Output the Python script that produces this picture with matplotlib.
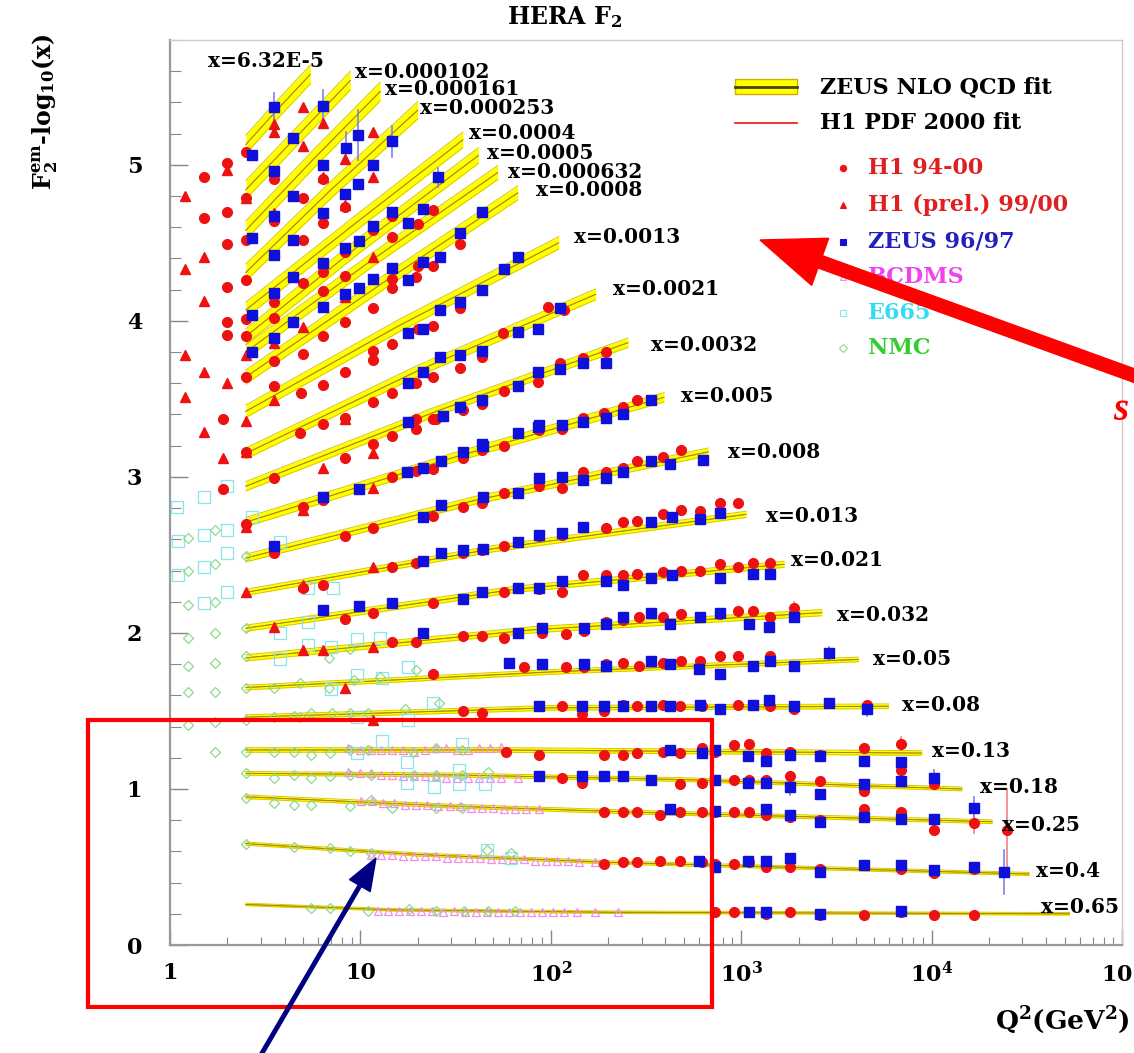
import matplotlib
matplotlib.use("Agg")
import matplotlib.pyplot as plt
from matplotlib.patches import Rectangle, FancyArrow
from matplotlib.ticker import MultipleLocator, LogLocator, NullFormatter

plt.rcParams['font.family'] = 'DejaVu Serif'
plt.rcParams['mathtext.fontset'] = 'dejavuserif'

# ---- x bins and fit curves (Q^2, F2 - log10 x) ----
x_bins = ['6.32E-5', '0.000102', '0.000161', '0.000253', '0.0004', '0.0005',
          '0.000632', '0.0008', '0.0013', '0.0021', '0.0032', '0.005', '0.008',
          '0.013', '0.021', '0.032', '0.05', '0.08', '0.13', '0.18', '0.25',
          '0.4', '0.65']

fit_q2 = [[2.5, 3.7, 5.46], [2.5, 4.7, 8.85], [2.5, 5.6, 12.7], [2.5, 7, 20],
          [2.5, 9.3, 34.5], [2.5, 10, 41.7], [2.5, 11.5, 52.6], [2.5, 13, 67],
          [2.5, 16, 110], [2.5, 20, 172], [2.5, 25, 254], [2.5, 30, 393],
          [2.5, 40, 670], [2.5, 50, 1060], [2.5, 65, 1680], [2.5, 80, 2650],
          [2.5, 100, 4130], [2.5, 100, 5940], [2.5, 50, 8870],
          [2.5, 30, 500, 14400], [2.5, 30, 300, 20800],
          [2.5, 20, 200, 32500], [2.5, 15, 200, 53000]]
fit_y = [[5.13, 5.36, 5.58], [4.84, 5.19, 5.54], [4.58, 5.03, 5.47], [4.31, 4.84, 5.35],
         [4.07, 4.62, 5.16], [3.90, 4.49, 5.06], [3.80, 4.39, 4.95], [3.64, 4.24, 4.82],
         [3.42, 3.97, 4.50], [3.15, 3.68, 4.17], [2.94, 3.42, 3.86], [2.71, 3.12, 3.51],
         [2.48, 2.85, 3.16], [2.26, 2.54, 2.76], [2.03, 2.28, 2.44], [1.84, 2.02, 2.13],
         [1.65, 1.75, 1.83], [1.46, 1.52, 1.53], [1.25, 1.25, 1.23],
         [1.10, 1.09, 1.06, 1.00], [0.95, 0.89, 0.85, 0.79],
         [0.65, 0.58, 0.53, 0.455], [0.26, 0.225, 0.21, 0.20]]
band_hw = [0.06, 0.06, 0.06, 0.055, 0.05, 0.05, 0.045, 0.045, 0.04, 0.035, 0.03,
           0.03, 0.025, 0.02, 0.02, 0.02, 0.015, 0.015, 0.015, 0.012, 0.012, 0.01, 0.008]

# label offsets from the end of each fit curve, in pixels (layout only)
label_dx = [-102, 5, 5, 2, 6, 9, 10, 18, 15, 17, 23, 17, 20, 20, 7, 15, 15, 13, 10, 18, 10, 7, -29]
label_dy = [13, 9, 2, 2, 7, 2, 1, 3, 6, 5, -2, 1, 0, -2, 4, -2, 0, 1, 2, 2, -3, 3, 7]

# ---- H1 94-00 ----
h1_lowx = [(2.5, 5.08), (2.0, 5.01), (1.5, 4.92), (3.5, 4.91), (6.4, 4.91), (2.5, 4.79), (5.0, 4.79), (8.3, 4.73),
           (1.5, 4.66), (2.0, 4.70), (3.5, 4.64), (6.4, 4.63), (11.7, 4.58), (14.7, 4.54), (20, 4.62), (24, 4.71), (14.7, 4.67),
           (2.5, 4.52), (2.0, 4.49), (5.0, 4.52), (6.4, 4.31), (8.3, 4.44), (14.7, 4.27), (20, 4.35), (24, 4.35), (33.5, 4.49),
           (2.5, 4.26), (2.0, 4.22), (3.5, 4.12), (5.0, 4.24), (6.4, 4.19), (8.3, 4.29), (11.7, 4.08), (14.7, 4.21),
           (20, 3.95), (24, 3.97), (33.5, 4.08), (43.6, 4.20),
           (2.5, 4.01), (2.0, 3.99), (2.0, 3.91), (2.5, 3.90), (3.5, 4.02), (3.5, 3.74), (5.0, 3.79), (6.4, 3.90),
           (8.3, 3.99), (11.7, 3.81), (14.7, 3.85),
           (2.5, 3.64), (3.5, 3.58), (6.4, 3.59), (8.3, 3.67), (24, 3.64), (33.5, 3.70), (43.6, 3.77), (11.7, 3.75), (19.5, 4.28),
           (14.7, 3.54), (11.7, 3.48), (19.5, 3.60), (56, 3.92), (97, 4.09), (117, 4.07), (43.6, 3.47), (34.5, 3.43),
           (25, 3.37), (19.5, 3.37), (8.3, 3.38),
           (86, 3.61), (112, 3.73), (147, 3.76), (195, 3.80), (147, 3.38), (190, 3.41), (240, 3.45), (285, 3.49),
           (57, 3.55), (4.9, 3.54), (1.9, 3.37)]
h1_midx = [(2.5, 3.16), (4.8, 3.28), (6.4, 3.34), (3.5, 2.99), (8.3, 3.12), (11.7, 3.21), (14.7, 3.26), (19.5, 3.31), (24, 3.37),
           (1.9, 2.92), (2.5, 2.70), (5.0, 2.81), (6.4, 2.85), (14.7, 3.00), (19.5, 3.04), (24, 3.05), (34.5, 3.12), (43.6, 3.17),
           (3.5, 2.51), (8.3, 2.62), (11.7, 2.67), (24, 2.75), (34.5, 2.81), (43.6, 2.83),
           (5.0, 2.29), (6.4, 2.31), (14.7, 2.42), (19.5, 2.45), (34.5, 2.51), (43.6, 2.53),
           (8.3, 2.09), (11.7, 2.13), (24, 2.19),
           (14.7, 1.94), (19.5, 1.94), (34.5, 1.98), (43.6, 1.98),
           (24, 1.74), (34.5, 1.50), (43.6, 1.49),
           (57, 3.20), (87, 3.30), (115, 3.31),
           (57, 2.90), (87, 2.94), (115, 2.93), (147, 3.03), (195, 3.03), (240, 3.06), (285, 3.10), (390, 3.13), (480, 3.17),
           (57, 2.56), (87, 2.62), (115, 2.63), (195, 2.67), (240, 2.71), (285, 2.72), (390, 2.76), (480, 2.79),
           (610, 2.78), (770, 2.83), (960, 2.83),
           (57, 2.26), (87, 2.28), (115, 2.26), (147, 2.37), (195, 2.37), (240, 2.37), (285, 2.38), (390, 2.39),
           (480, 2.40), (610, 2.40), (770, 2.44), (960, 2.42), (1150, 2.45), (1420, 2.45),
           (57, 1.97), (90, 2.00), (120, 1.99), (149, 2.01), (195, 2.07), (240, 2.08), (290, 2.10), (390, 2.10),
           (480, 2.12), (610, 2.10), (770, 2.12), (960, 2.14), (1150, 2.14), (1420, 2.10), (1900, 2.16),
           (72, 1.78), (120, 1.78), (149, 1.78), (195, 1.80), (240, 1.81), (290, 1.79), (390, 1.81), (480, 1.82),
           (610, 1.82), (770, 1.85), (960, 1.85), (1150, 1.79), (1420, 1.85), (1900, 1.79), (2900, 1.87),
           (114, 1.53), (145, 1.48), (190, 1.50), (240, 1.54), (285, 1.53), (390, 1.54), (475, 1.53), (620, 1.53),
           (770, 1.51), (960, 1.54), (1150, 1.54), (1420, 1.53), (1900, 1.51), (2900, 1.55), (4600, 1.54)]
h1_highx = [(58, 1.24), (87, 1.22), (190, 1.22), (240, 1.22), (285, 1.23), (390, 1.24), (475, 1.23), (620, 1.26),
            (730, 1.24), (920, 1.28), (1100, 1.29), (1350, 1.23), (1800, 1.24), (2600, 1.22), (4400, 1.26), (6900, 1.29),
            (114, 1.07), (145, 1.04), (475, 1.03), (620, 1.04), (730, 1.06), (920, 1.06), (1100, 1.06), (1350, 1.06),
            (1800, 1.08), (2600, 1.05), (4400, 0.99), (6900, 1.12), (10300, 1.03),
            (190, 0.85), (240, 0.85), (285, 0.85), (375, 0.83), (475, 0.85), (620, 0.85), (730, 0.85), (920, 0.85),
            (1100, 0.85), (1350, 0.83), (1800, 0.82), (2600, 0.80), (4400, 0.87), (6900, 0.85), (10300, 0.74),
            (16800, 0.78), (25000, 0.74),
            (190, 0.52), (240, 0.53), (285, 0.53), (375, 0.54), (475, 0.54), (620, 0.53), (730, 0.52), (920, 0.52),
            (1100, 0.53), (1350, 0.50), (1800, 0.50), (2600, 0.49), (4400, 0.51), (6900, 0.49), (10300, 0.46), (16800, 0.49),
            (730, 0.21), (920, 0.21), (1100, 0.21), (1350, 0.20), (1800, 0.21), (2600, 0.19), (4400, 0.19),
            (6900, 0.21), (10300, 0.19), (16800, 0.19)]

# ---- H1 (prel.) 99/00 ----
h1_prel = [(1.2, 4.80), (1.2, 4.33), (1.5, 4.41), (1.5, 4.13), (1.2, 3.78), (1.5, 3.67), (2.0, 3.60), (2.0, 4.97),
           (3.5, 5.26), (3.5, 5.21), (5.0, 5.37), (6.4, 5.27), (5.0, 5.12), (8.3, 5.04), (11.7, 5.21), (11.7, 4.92),
           (2.5, 4.79), (3.5, 4.69), (6.4, 4.92), (8.3, 4.74), (11.7, 4.41), (2.5, 3.78), (3.5, 3.86), (5.0, 3.96), (8.3, 4.15),
           (1.2, 3.51), (1.5, 3.29), (1.9, 3.12), (2.5, 3.16), (8.3, 3.37), (6.4, 3.06), (11.7, 3.15), (2.5, 3.36), (3.5, 3.49),
           (2.5, 2.68), (5.0, 2.79), (11.7, 2.93), (2.5, 2.26), (5.0, 2.31), (11.7, 2.42), (3.5, 2.04), (5.0, 1.89),
           (6.4, 1.89), (11.7, 1.91), (8.3, 1.65), (11.7, 1.44)]

# ---- ZEUS 96/97 ----
zeus_lowx = [(3.5, 5.37), (6.4, 5.38), (4.4, 5.17), (9.7, 5.19), (8.4, 5.11), (11.7, 5.00), (14.7, 5.15), (6.4, 5.00),
             (2.7, 5.06), (3.5, 4.96), (4.4, 4.80), (8.3, 4.81), (9.7, 4.88), (6.4, 4.69), (3.5, 4.67), (11.7, 4.61),
             (14.7, 4.70), (25.7, 4.92), (21.4, 4.72), (17.7, 4.63), (43.6, 4.70), (33.5, 4.56),
             (2.7, 4.53), (4.4, 4.52), (3.5, 4.42), (6.4, 4.37), (8.3, 4.47), (9.8, 4.51), (4.4, 4.28), (3.5, 4.18),
             (6.4, 4.09), (8.3, 4.17), (9.8, 4.21), (11.7, 4.27), (14.7, 4.34), (17.7, 4.26), (21.2, 4.38), (26.3, 4.41),
             (2.7, 4.04), (4.4, 3.99), (3.5, 3.89), (2.7, 3.80), (17.7, 3.92), (21.2, 3.95), (26.3, 4.07), (33.5, 4.12),
             (43.6, 4.20), (17.7, 3.60), (21.2, 3.67), (26.3, 3.77), (33.5, 3.78), (43.6, 3.81),
             (57, 4.33), (67, 4.41), (67, 3.93), (86, 3.95), (112, 4.08), (33.5, 3.45), (43.6, 3.49), (27, 3.39),
             (67, 3.58), (86, 3.67), (112, 3.69), (195, 3.73), (147, 3.73), (17.7, 3.35), (86, 3.32), (195, 3.38),
             (240, 3.40), (335, 3.49)]
zeus_midx = [(44, 3.20), (67, 3.28), (87, 3.33), (115, 3.33), (147, 3.35),
             (6.4, 2.87), (9.8, 2.92), (17.5, 3.03), (21.4, 3.06), (26.5, 3.10), (34.5, 3.16), (43.6, 3.21),
             (44, 2.87), (67, 2.90), (87, 2.99), (115, 3.00), (147, 2.98), (195, 2.99), (240, 3.03), (335, 3.10),
             (425, 3.08), (630, 3.11),
             (3.5, 2.56), (21.4, 2.74), (26.5, 2.82),
             (44, 2.54), (67, 2.58), (87, 2.63), (115, 2.64), (147, 2.68), (335, 2.71), (435, 2.74), (610, 2.73), (770, 2.77),
             (21.4, 2.46), (26.5, 2.51), (34.5, 2.53),
             (67, 2.29), (87, 2.29), (115, 2.33), (195, 2.33), (240, 2.31), (335, 2.35), (435, 2.37), (770, 2.35),
             (1150, 2.38), (1420, 2.38),
             (6.4, 2.15), (9.8, 2.17), (14.7, 2.19), (34.5, 2.22), (43.6, 2.26),
             (21.4, 2.00), (67, 2.00), (90, 2.03), (149, 2.03), (195, 2.06), (240, 2.10), (335, 2.13), (425, 2.06),
             (610, 2.10), (770, 2.13), (1100, 2.06), (1400, 2.04), (1900, 2.10),
             (60, 1.81), (90, 1.80), (149, 1.80), (195, 1.79), (335, 1.82), (425, 1.80), (600, 1.77), (770, 1.74),
             (1150, 1.79), (1420, 1.82), (1900, 1.79), (2900, 1.87),
             (87, 1.53), (145, 1.53), (190, 1.53), (240, 1.53), (335, 1.53), (425, 1.53), (610, 1.54), (770, 1.51),
             (1150, 1.54), (1400, 1.57), (1900, 1.53), (2900, 1.55), (4600, 1.51)]
zeus_highx = [(425, 1.25), (620, 1.23), (730, 1.25), (1080, 1.21), (1350, 1.18), (1800, 1.22), (2600, 1.21),
              (4400, 1.18), (6900, 1.17),
              (87, 1.08), (145, 1.08), (190, 1.08), (240, 1.08), (335, 1.06), (730, 1.06), (1080, 1.04), (1350, 1.04),
              (1800, 1.01), (2600, 0.97), (4400, 1.03), (6900, 1.05), (10300, 1.07),
              (425, 0.87), (730, 0.86), (1350, 0.87), (1800, 0.83), (2600, 0.79), (4400, 0.82), (6900, 0.81),
              (10300, 0.81), (16800, 0.88),
              (600, 0.54), (730, 0.50), (1080, 0.54), (1350, 0.54), (1800, 0.56), (2600, 0.47), (4400, 0.51),
              (6900, 0.51), (10300, 0.48), (16800, 0.50), (24000, 0.47),
              (1100, 0.21), (1350, 0.21), (2600, 0.20), (6900, 0.22)]

# error bars that are clearly visible (Q^2, value, error)
h1_err = [(25000, 0.74, 0.26), (16800, 0.78, 0.06), (6900, 1.29, 0.04), (6900, 1.12, 0.05), (1900, 2.16, 0.04)]
zeus_err = [(24000, 0.47, 0.14), (16800, 0.88, 0.07), (9.7, 5.19, 0.16), (6.4, 5.38, 0.10), (3.5, 5.37, 0.09),
            (14.7, 5.15, 0.10), (8.4, 5.11, 0.10), (25.7, 4.92, 0.06), (1800, 1.01, 0.05), (10300, 1.07, 0.05),
            (2900, 1.87, 0.04), (4600, 1.51, 0.04)]

# ---- fixed target experiments ----
bcdms_q2 = [8.6, 9.9, 11.3, 12.9, 14.7, 16.8, 19.2, 21.9, 24.9, 28.3, 32.3, 36.9, 42.1, 48.1, 54.9,
            8.6, 9.9, 11.3, 12.9, 14.7, 16.8, 19.2, 21.9, 24.9, 28.3, 32.3, 36.9, 42.1, 48.1, 54.9, 67,
            10.1, 11.5, 13.2, 15.1, 17.2, 19.7, 22.5, 25.7, 29.4, 33.5, 38.3, 43.7, 49.9, 57, 65, 74.4, 87,
            11.3, 12.9, 14.7, 16.8, 19.2, 21.9, 25, 28.6, 32.6, 37.3, 42.6, 48.6, 55.5, 63.4, 72.4, 82.6, 94.3,
            108, 123, 141, 170,
            12.3, 14, 16, 18.3, 20.9, 23.9, 27.3, 31.1, 35.6, 40.6, 46.4, 53, 60.5, 69.1, 78.9, 90.1, 103,
            118, 137, 170, 225]
bcdms_y = [1.26, 1.25, 1.25, 1.25, 1.25, 1.25, 1.24, 1.25, 1.26, 1.26, 1.25, 1.25, 1.26, 1.26, 1.27,
           1.11, 1.10, 1.10, 1.09, 1.09, 1.08, 1.08, 1.08, 1.08, 1.07, 1.07, 1.07, 1.07, 1.07, 1.07, 1.07,
           0.92, 0.92, 0.91, 0.91, 0.90, 0.90, 0.90, 0.89, 0.89, 0.89, 0.88, 0.88, 0.88, 0.87, 0.87, 0.87, 0.87,
           0.58, 0.58, 0.58, 0.57, 0.57, 0.57, 0.57, 0.56, 0.56, 0.56, 0.56, 0.55, 0.55, 0.55, 0.55, 0.54, 0.54,
           0.54, 0.54, 0.53, 0.53,
           0.22, 0.22, 0.22, 0.22, 0.22, 0.22, 0.21, 0.22, 0.21, 0.21, 0.21, 0.21, 0.21, 0.21, 0.21, 0.21, 0.21,
           0.21, 0.21, 0.21, 0.21]

e665 = [(1.09, 2.81), (1.5, 2.87), (2.0, 2.94), (1.1, 2.59), (1.5, 2.63), (2.0, 2.66), (1.1, 2.37), (1.5, 2.42),
        (2.0, 2.51), (1.5, 2.19), (2.0, 2.26), (2.7, 2.74), (3.8, 2.58), (5.3, 2.29), (7.2, 2.29), (3.8, 2.00),
        (5.3, 2.07), (5.3, 1.92), (7.0, 1.91), (9.6, 1.96), (12.7, 1.97), (3.8, 1.83), (7.0, 1.64), (9.6, 1.73),
        (13, 1.71), (17.7, 1.78), (24, 1.55), (9.6, 1.46), (13, 1.31), (17.7, 1.44), (9.6, 1.23), (17.5, 1.17),
        (34, 1.29), (17.5, 1.04), (24.5, 1.01), (33, 1.12), (33, 1.03), (45, 1.03), (46, 0.61), (62, 0.56)]

nmc = [(1.24, 2.61), (1.72, 2.66), (1.24, 2.40), (1.72, 2.44), (1.24, 2.18), (1.72, 2.20), (1.24, 1.97), (1.72, 2.00),
       (1.24, 1.79), (1.72, 1.81), (1.24, 1.62), (1.72, 1.62), (1.24, 1.41), (1.72, 1.43), (1.72, 1.24),
       (2.5, 2.49), (2.5, 2.03), (2.5, 1.85), (2.5, 1.65), (2.5, 1.44), (2.5, 1.24), (2.5, 1.10), (2.5, 0.94), (2.5, 0.65),
       (3.5, 1.65), (3.5, 1.46), (4.8, 1.68), (4.8, 1.46), (6.8, 1.84), (6.8, 1.65), (8.8, 1.90), (9.2, 1.70),
       (12.7, 1.72), (19.5, 1.76), (26, 1.55),
       (4.5, 1.47), (5.5, 1.49), (7.1, 1.49), (8.8, 1.49), (11, 1.49), (17.2, 1.51),
       (3.5, 1.24), (4.5, 1.24), (5.5, 1.22), (6.9, 1.23), (8.8, 1.25), (11, 1.25), (18.8, 1.24), (25, 1.26), (34, 1.25),
       (3.5, 1.07), (4.5, 1.09), (5.5, 1.07), (6.9, 1.08), (8.8, 1.09), (11.3, 1.09), (19.2, 1.09), (25, 1.09),
       (34, 1.09), (47, 1.11),
       (3.5, 0.91), (4.5, 0.90), (5.5, 0.90), (8.8, 0.89), (11.3, 0.93), (14.7, 0.88), (25, 0.88), (34, 0.88),
       (4.5, 0.63), (6.9, 0.62), (8.8, 0.60), (11.3, 0.59), (46, 0.61), (62, 0.59),
       (5.5, 0.24), (6.9, 0.24), (11, 0.22), (18, 0.23), (25, 0.22), (35, 0.22), (47, 0.22), (65, 0.22)]

RED = '#ee1111'
BLUE = '#1010dd'
W, H = 1134, 1053

fig = plt.figure(figsize=(W / 100, H / 100), dpi=100)
ax = fig.add_axes([170 / W, (H - 945) / H, 952 / W, 905 / H])
ax.set_xscale('log')
ax.set_xlim(1, 1e5)
ax.set_ylim(0, 5.8)

# fit bands and labels
for i, lab in enumerate(x_bins):
    q, yy, hw = fit_q2[i], fit_y[i], band_hw[i]
    lo = [v - hw for v in yy]
    hi = [v + hw for v in yy]
    ax.fill_between(q, lo, hi, color='#ffff00', lw=0, zorder=2)
    ax.plot(q, lo, color='#d8c800', lw=0.7, zorder=2)
    ax.plot(q, hi, color='#d8c800', lw=0.7, zorder=2)
    ax.plot(q, yy, color='#e08040', lw=0.6, zorder=3)
    ax.plot(q, yy, color='#a08c00', lw=0.7, zorder=3)
    ax.annotate('x=' + lab, xy=(q[-1], yy[-1]), xytext=(label_dx[i], label_dy[i]),
                textcoords='offset pixels', ha='left', va='center', fontsize=14.5,
                fontweight='bold', annotation_clip=False, zorder=6)

def unzip(pts):
    return [p[0] for p in pts], [p[1] for p in pts]

# fixed target (pale, open symbols)
ax.plot(bcdms_q2, bcdms_y, '^', ms=6, mfc='none', mec='#f28af2', mew=0.9, zorder=4)
q, v = unzip(e665)
ax.plot(q, v, 's', ms=8, mfc='none', mec='#8ae4ee', mew=0.9, zorder=4)
q, v = unzip(nmc)
ax.plot(q, v, 'D', ms=5, mfc='none', mec='#8ed88e', mew=0.9, zorder=4)

# error bars
for q2, val, err in h1_err:
    ax.plot([q2, q2], [val - err, val + err], color='#f08080', lw=1.2, zorder=4)
for q2, val, err in zeus_err:
    ax.plot([q2, q2], [val - err, val + err], color='#8080ee', lw=1.2, zorder=4)

# HERA data
q, v = unzip(h1_lowx + h1_midx + h1_highx)
ax.plot(q, v, 'o', ms=7, color=RED, mec=RED, zorder=5)
q, v = unzip(h1_prel)
ax.plot(q, v, '^', ms=7, color=RED, mec=RED, zorder=5)
q, v = unzip(zeus_lowx + zeus_midx + zeus_highx)
ax.plot(q, v, 's', ms=6.5, color=BLUE, mec=BLUE, zorder=5)

# axes styling
for s in ['left', 'bottom']:
    ax.spines[s].set_color('#999999')
    ax.spines[s].set_linewidth(1.6)
for s in ['top', 'right']:
    ax.spines[s].set_color('#cccccc')
    ax.spines[s].set_linewidth(1.0)

ax.set_xticks([1, 10, 100, 1e3, 1e4, 1e5])
ax.set_xticklabels(['1', '10', r'$\mathbf{10^{2}}$', r'$\mathbf{10^{3}}$', r'$\mathbf{10^{4}}$', r'$\mathbf{10^{5}}$'],
                   fontweight='bold', fontsize=16)
ax.xaxis.set_minor_locator(LogLocator(base=10, subs=range(2, 10)))
ax.xaxis.set_minor_formatter(NullFormatter())
ax.set_yticks([0, 1, 2, 3, 4, 5])
ax.set_yticklabels(['0', '1', '2', '3', '4', '5'], fontweight='bold', fontsize=16)
ax.yaxis.set_minor_locator(MultipleLocator(0.2))
ax.tick_params(axis='x', which='major', direction='in', length=11, width=1, color='#888888', pad=12)
ax.tick_params(axis='x', which='minor', direction='in', length=6, width=0.8, color='#888888')
ax.tick_params(axis='y', which='major', direction='in', length=13, width=1, color='#888888', pad=20)
ax.tick_params(axis='y', which='minor', direction='in', length=8, width=0.8, color='#888888')
ax.tick_params(top=False, right=False, which='both')

# ---- overlay in pixel coordinates: titles, legend, annotations ----
ov = fig.add_axes([0, 0, 1, 1])
ov.set_xlim(0, W)
ov.set_ylim(H, 0)
ov.axis('off')

ov.text(565, 17, r'HERA F$_{\bf 2}$', ha='center', va='center', fontsize=17, fontweight='bold')
ov.text(45, 112, r'F$_{\bf 2}^{\bf em}$-log$_{\bf 10}$(x)', rotation=90, ha='center', va='center',
        fontsize=17, fontweight='bold')
ov.text(1130, 1020, r'Q$^{\bf 2}$(GeV$^{\bf 2}$)', ha='right', va='center', fontsize=19, fontweight='bold')

# legend
ov.add_patch(Rectangle((735, 79), 62, 15, facecolor='#ffff00', edgecolor='#c8b400', lw=1))
ov.plot([735, 797], [86.5, 86.5], color='#4a4400', lw=2)
ov.text(820, 87, 'ZEUS NLO QCD fit', va='center', fontsize=16, fontweight='bold')
ov.plot([735, 797], [123, 123], color=RED, lw=1.2)
ov.text(820, 123, 'H1 PDF 2000 fit', va='center', fontsize=16, fontweight='bold')
legend_rows = [('H1 94-00', 'o', RED, RED, 168),
               ('H1 (prel.) 99/00', '^', RED, RED, 205),
               ('ZEUS 96/97', 's', BLUE, BLUE, 242),
               ('BCDMS', '^', 'none', '#f28af2', 277),
               ('E665', 's', 'none', '#8ae4ee', 313),
               ('NMC', 'D', 'none', '#8ed88e', 348)]
text_cols = {'H1 94-00': '#e02020', 'H1 (prel.) 99/00': '#e02020', 'ZEUS 96/97': '#2020c0',
             'BCDMS': '#ee44ee', 'E665': '#33dcee', 'NMC': '#33cc33'}
for name, mk, fc, ec, yp in legend_rows:
    ov.plot([843], [yp], mk, ms=4.5, mfc=fc, mec=ec, mew=0.8)
    ov.text(868, yp, name, va='center', fontsize=16, fontweight='bold', color=text_cols[name])

# red box, arrows and cut-off text
ov.add_patch(Rectangle((88, 720), 624, 287, fill=False, edgecolor='#ff0000', lw=3))
ov.add_patch(FancyArrow(258, 1060, 118, -202, width=3.5, head_width=24, head_length=32,
                        length_includes_head=True, color='#000080'))
ov.add_patch(FancyArrow(1160, 385, -400, -145, width=13, head_width=50, head_length=64,
                        length_includes_head=True, color='#ff0000', zorder=8))
ov.text(1113, 410, 's', color='#ff0000', fontsize=28, fontweight='bold', fontstyle='italic',
        family='Liberation Serif', va='center', ha='left')

fig.savefig('out.png', dpi=100)
